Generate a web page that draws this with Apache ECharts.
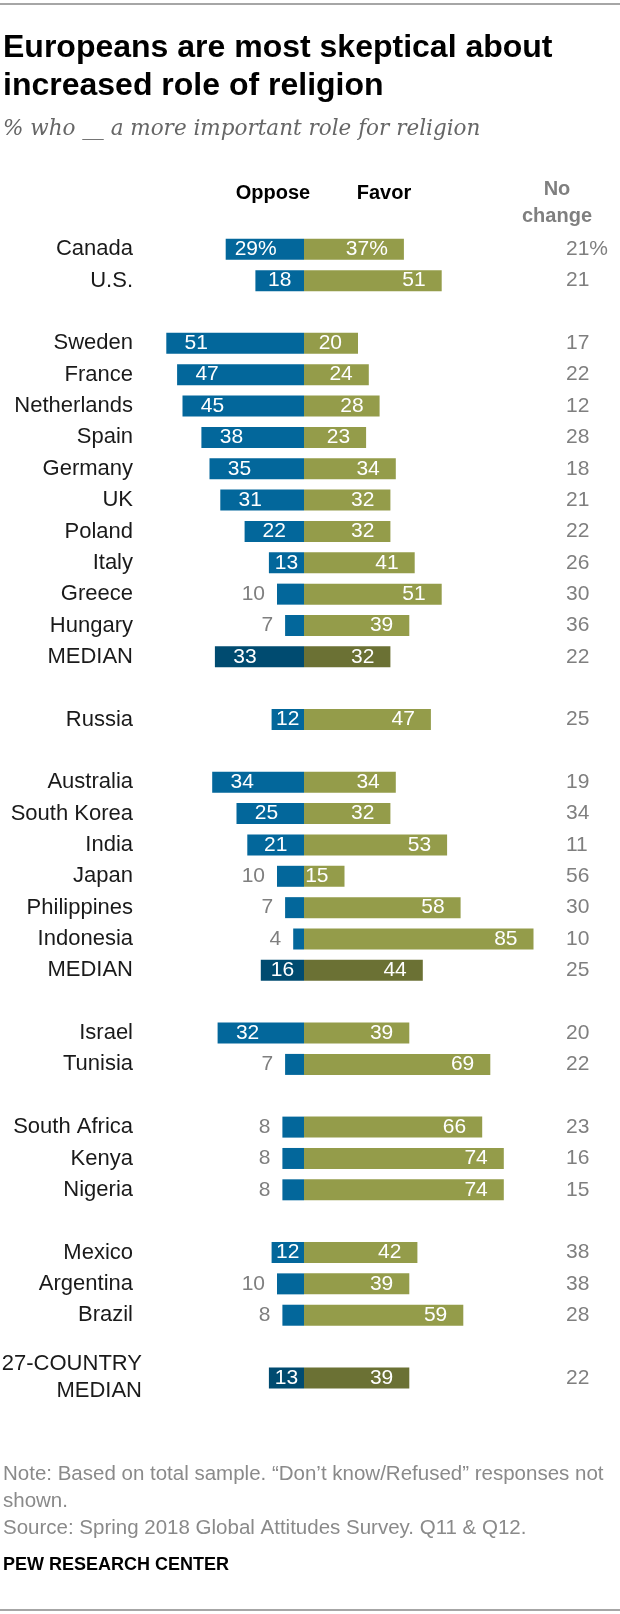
<!DOCTYPE html>
<html>
<head>
<meta charset="utf-8">
<script src="https://cdn.jsdelivr.net/npm/echarts@6/dist/echarts.min.js"></script>
<style>
  html, body { margin: 0; padding: 0; background: #fff; }
  #main { width: 620px; height: 1614px; }
</style>
</head>
<body>
<div id="main"></div>
<script>
// rows top to bottom, '' = spacer row
var countries = ['Canada', 'U.S.', '', 'Sweden', 'France', 'Netherlands', 'Spain', 'Germany', 'UK', 'Poland',
  'Italy', 'Greece', 'Hungary', 'MEDIAN', '', 'Russia', '', 'Australia', 'South Korea', 'India', 'Japan',
  'Philippines', 'Indonesia', 'MEDIAN', '', 'Israel', 'Tunisia', '', 'South Africa', 'Kenya', 'Nigeria', '',
  'Mexico', 'Argentina', 'Brazil', '', '27-COUNTRY\nMEDIAN'];
var oppose = [29, 18, null, 51, 47, 45, 38, 35, 31, 22, 13, 10, 7, 33, null, 12, null, 34, 25, 21, 10, 7, 4, 16,
  null, 32, 7, null, 8, 8, 8, null, 12, 10, 8, null, 13];
var favor = [37, 51, null, 20, 24, 28, 23, 34, 32, 32, 41, 51, 39, 32, null, 47, null, 34, 32, 53, 15, 58, 85, 44,
  null, 39, 69, null, 66, 74, 74, null, 42, 39, 59, null, 39];
var noChange = ['21%', '21', '', '17', '22', '12', '28', '18', '21', '22', '26', '30', '36', '22', '', '25', '',
  '19', '34', '11', '56', '30', '10', '25', '', '20', '22', '', '23', '16', '15', '', '38', '38', '28', '', '22'];
var xTicks = [-60, 90];

var gridLeft = 142, gridWidth = 405;
var pxPerUnit = gridWidth / (xTicks[1] - xTicks[0]);

var BLUE = '#03679b', BLUE_DARK = '#004b70';
var OLIVE = '#949c4a', OLIVE_DARK = '#6b7134';
var GREY = '#7f7f7f';
var SANS = 'Liberation Sans, Arial, sans-serif';

function isMedian(i) { return countries[i].indexOf('MEDIAN') >= 0; }

var opposeData = oppose.map(function (v, i) {
  if (v == null) return null;
  var lab;
  if (v > 10) {
    lab = { show: true, position: 'insideLeft', distance: Math.min(v * pxPerUnit / 2, 30), align: 'center', color: '#fff' };
  } else {
    lab = { show: true, position: 'left', distance: 12, color: GREY };
  }
  return { value: -v, itemStyle: { color: isMedian(i) ? BLUE_DARK : BLUE }, label: lab };
});
var favorData = favor.map(function (v, i) {
  if (v == null) return null;
  return { value: v, itemStyle: { color: isMedian(i) ? OLIVE_DARK : OLIVE } };
});

var yCats = countries.map(function (c) {
  // two-line label sits a bit low and further right in the original
  if (c.indexOf('\n') >= 0) return { value: c, textStyle: { padding: [12, -9, 0, 0], lineHeight: 27 } };
  return c;
});

var myChart = echarts.init(document.getElementById('main'), null, { renderer: 'canvas' });
var option = {
  backgroundColor: '#fff',
  animation: false,
  grid: { left: gridLeft, width: gridWidth, top: 233.6, height: 1160, containLabel: false, outerBoundsMode: 'none' },
  xAxis: { type: 'value', min: xTicks[0], max: xTicks[1], show: false },
  yAxis: [{
    type: 'category', inverse: true, data: yCats,
    axisLine: { show: false }, axisTick: { show: false }, splitLine: { show: false },
    axisLabel: { margin: 9, color: '#1a1a1a', fontSize: 22, fontFamily: SANS, lineHeight: 27 }
  }, {
    type: 'category', inverse: true, position: 'right', data: noChange,
    axisLine: { show: false }, axisTick: { show: false }, splitLine: { show: false },
    axisLabel: { margin: 19, color: GREY, fontSize: 21, fontFamily: SANS, align: 'left' }
  }],
  series: [{
    type: 'bar', name: 'Oppose', data: opposeData, barWidth: 21, barGap: '-100%',
    label: {
      fontSize: 21, fontFamily: SANS,
      formatter: function (p) { return Math.abs(p.value) + (p.dataIndex === 0 ? '%' : ''); }
    }
  }, {
    type: 'bar', name: 'Favor', data: favorData, barWidth: 21, barGap: '-100%',
    label: {
      show: true, position: 'insideRight', distance: 16, color: '#fff', fontSize: 21, fontFamily: SANS,
      formatter: function (p) { return p.value + (p.dataIndex === 0 ? '%' : ''); }
    }
  }],
  graphic: [
    { type: 'rect', shape: { x: 0, y: 3, width: 620, height: 2 }, style: { fill: '#a6a6a6' } },
    { type: 'text', left: 3, top: 29, style: { text: 'Europeans are most skeptical about\nincreased role of religion',
      font: 'bold 32px ' + SANS, fill: '#000', lineHeight: 38 } },
    { type: 'text', left: 3, top: 118, style: { text: '% who __ a more important role for religion',
      font: 'italic 21.5px DejaVu Serif, Georgia, serif', fill: '#666' } },
    { type: 'text', x: 273, y: 193, style: { text: 'Oppose', font: 'bold 20px ' + SANS,
      fill: '#000', align: 'center', verticalAlign: 'middle' } },
    { type: 'text', x: 384, y: 193, style: { text: 'Favor', font: 'bold 20px ' + SANS,
      fill: '#000', align: 'center', verticalAlign: 'middle' } },
    { type: 'text', x: 557, y: 203, style: { text: 'No\nchange', font: 'bold 20px ' + SANS,
      fill: GREY, align: 'center', verticalAlign: 'middle', lineHeight: 27 } },
    { type: 'text', left: 3, top: 1461, style: { text: 'Note: Based on total sample. \u201cDon\u2019t know/Refused\u201d responses not\nshown.\nSource: Spring 2018 Global Attitudes Survey. Q11 & Q12.',
      font: '20.5px ' + SANS, fill: '#8a8a8a', lineHeight: 27 } },
    { type: 'text', left: 3, top: 1556, style: { text: 'PEW RESEARCH CENTER',
      font: 'bold 18px ' + SANS, fill: '#000' } },
    { type: 'rect', shape: { x: 0, y: 1609, width: 620, height: 2 }, style: { fill: '#a6a6a6' } }
  ]
};
myChart.setOption(option);
</script>
</body>
</html>
